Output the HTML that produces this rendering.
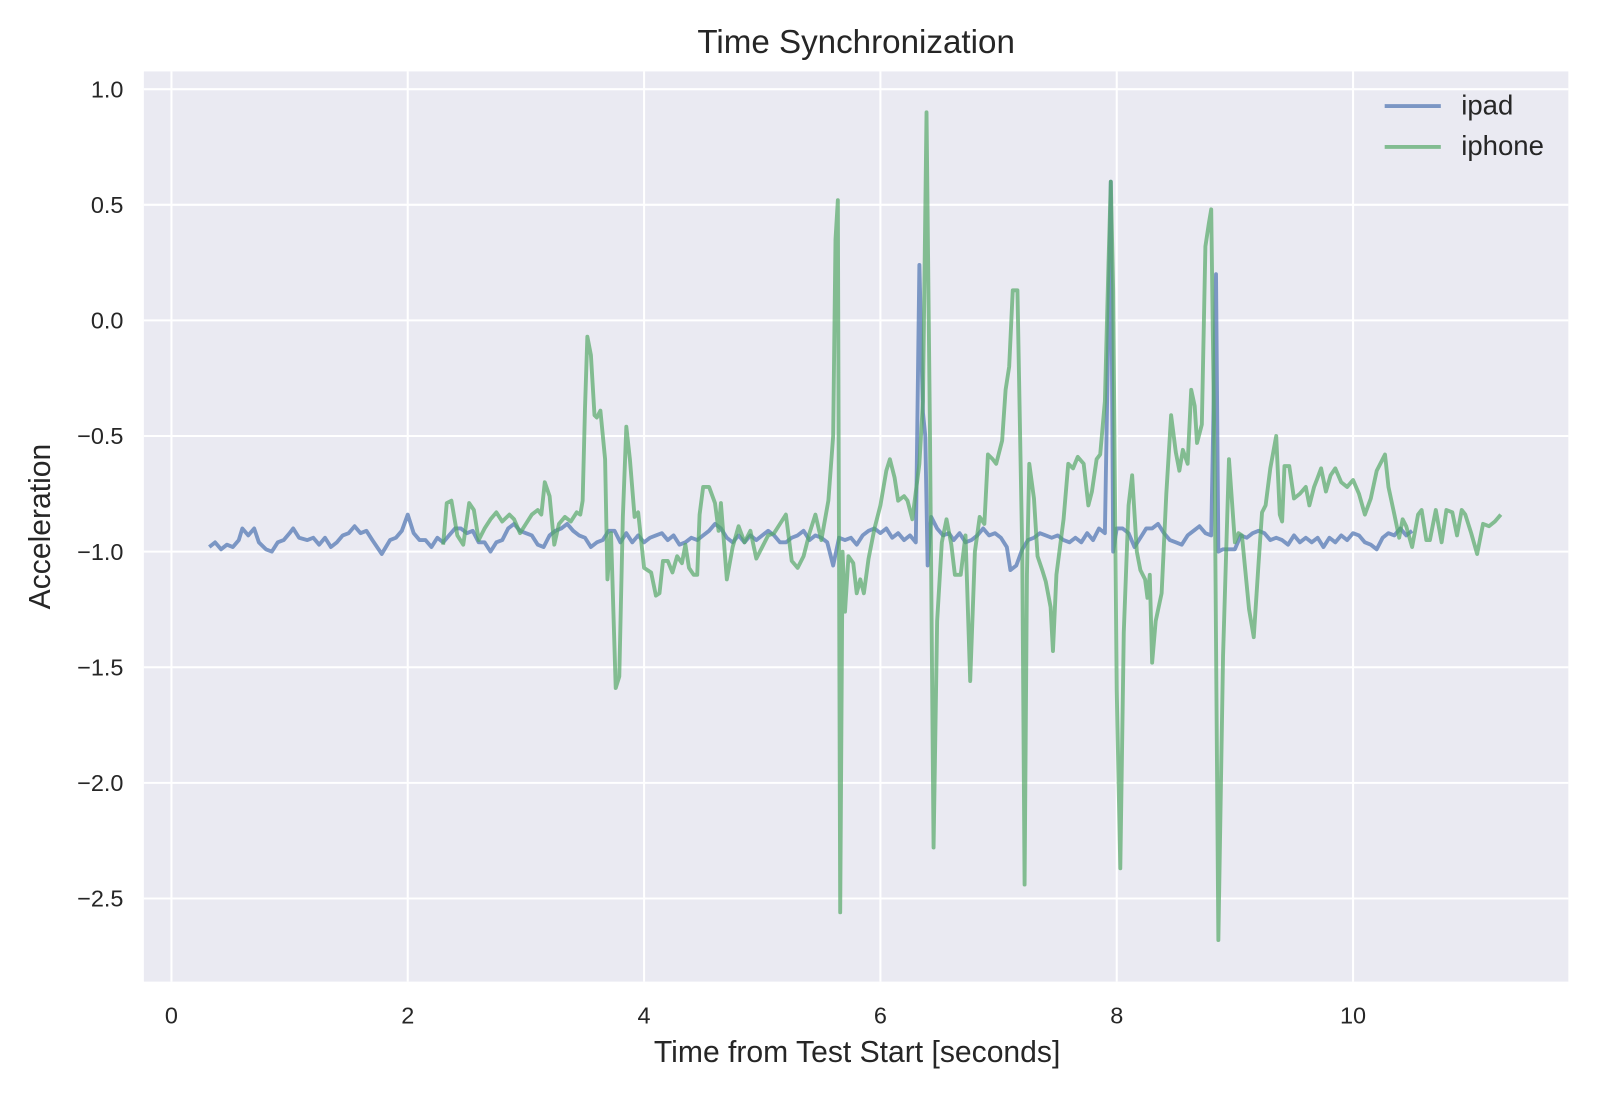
<!DOCTYPE html>
<html><head><meta charset="utf-8"><style>
body{margin:0;background:#fff;font-family:"Liberation Sans",sans-serif}
svg text{font-family:"Liberation Sans",sans-serif;fill:#262626}
</style></head><body>
<svg id="chart" width="1600" height="1100" viewBox="0 0 1600 1100" xmlns="http://www.w3.org/2000/svg">
<rect x="0" y="0" width="1600" height="1100" fill="#fff"/>
<g transform="scale(1.0204)">
<rect x="141" y="70" width="1396" height="892" fill="#eaeaf2"/>
<g id="grid"></g>
<g id="series"></g>
<g id="ticks"></g>
<text x="839" y="52" font-size="32.5" text-anchor="middle">Time Synchronization</text>
<text x="840" y="1041" font-size="29.5" text-anchor="middle">Time from Test Start [seconds]</text>
<text x="49" y="516" font-size="29.5" text-anchor="middle" transform="rotate(-90 49 516)">Acceleration</text>
<g>
<line x1="1357" y1="104" x2="1412" y2="104" stroke="#4c72b0" stroke-opacity="0.7" stroke-width="3.8"/>
<text x="1432" y="112" font-size="27">ipad</text>
<line x1="1357" y1="144" x2="1412" y2="144" stroke="#55a868" stroke-opacity="0.7" stroke-width="3.8"/>
<text x="1432" y="152" font-size="27">iphone</text>
</g>
</g>
</svg>
<script>
const xTicks=[0,2,4,6,8,10];
const yTicks=[1.0,0.5,0.0,-0.5,-1.0,-1.5,-2.0,-2.5];
const yTickLabels=["1.0","0.5","0.0","\u22120.5","\u22121.0","\u22121.5","\u22122.0","\u22122.5"];
const ipadT=[0.32,0.37,0.42,0.47,0.52,0.57,0.6,0.65,0.7,0.74,0.8,0.85,0.9,0.95,1.0,1.03,1.08,1.15,1.2,1.25,1.3,1.35,1.4,1.45,1.5,1.55,1.6,1.65,1.7,1.78,1.85,1.9,1.95,2.0,2.05,2.1,2.15,2.2,2.25,2.3,2.35,2.4,2.45,2.5,2.55,2.6,2.65,2.7,2.75,2.8,2.85,2.9,2.95,3.0,3.05,3.1,3.15,3.2,3.25,3.3,3.35,3.4,3.45,3.5,3.55,3.6,3.65,3.7,3.75,3.8,3.85,3.9,3.95,4.0,4.05,4.1,4.15,4.2,4.25,4.3,4.35,4.4,4.45,4.5,4.55,4.6,4.65,4.7,4.75,4.8,4.85,4.9,4.95,5.0,5.05,5.1,5.15,5.2,5.25,5.3,5.35,5.4,5.45,5.5,5.55,5.6,5.65,5.7,5.75,5.8,5.85,5.9,5.95,6.0,6.05,6.1,6.15,6.2,6.25,6.3,6.33,6.36,6.38,6.4,6.43,6.48,6.53,6.58,6.62,6.67,6.72,6.77,6.82,6.87,6.92,6.97,7.02,7.07,7.1,7.15,7.2,7.25,7.3,7.35,7.4,7.45,7.5,7.55,7.6,7.65,7.7,7.75,7.8,7.85,7.9,7.95,7.97,8.0,8.05,8.1,8.15,8.2,8.25,8.3,8.35,8.4,8.45,8.5,8.55,8.6,8.65,8.7,8.75,8.8,8.84,8.86,8.9,8.95,9.0,9.05,9.1,9.15,9.2,9.25,9.3,9.35,9.4,9.45,9.5,9.55,9.6,9.65,9.7,9.75,9.8,9.85,9.9,9.95,10.0,10.05,10.1,10.15,10.2,10.25,10.3,10.35,10.4,10.45,10.5];
const ipadV=[-0.98,-0.96,-0.99,-0.97,-0.98,-0.95,-0.9,-0.93,-0.9,-0.96,-0.99,-1.0,-0.96,-0.95,-0.92,-0.9,-0.94,-0.95,-0.94,-0.97,-0.94,-0.98,-0.96,-0.93,-0.92,-0.89,-0.92,-0.91,-0.95,-1.01,-0.95,-0.94,-0.91,-0.84,-0.92,-0.95,-0.95,-0.98,-0.94,-0.96,-0.93,-0.9,-0.9,-0.92,-0.91,-0.96,-0.96,-1.0,-0.96,-0.95,-0.9,-0.88,-0.91,-0.92,-0.93,-0.97,-0.98,-0.93,-0.91,-0.9,-0.88,-0.91,-0.93,-0.94,-0.98,-0.96,-0.95,-0.91,-0.91,-0.96,-0.92,-0.96,-0.93,-0.96,-0.94,-0.93,-0.92,-0.95,-0.93,-0.97,-0.96,-0.94,-0.95,-0.93,-0.91,-0.88,-0.9,-0.94,-0.96,-0.93,-0.96,-0.93,-0.95,-0.93,-0.91,-0.93,-0.96,-0.96,-0.94,-0.93,-0.91,-0.95,-0.93,-0.94,-0.96,-1.06,-0.94,-0.95,-0.94,-0.97,-0.93,-0.91,-0.9,-0.92,-0.9,-0.94,-0.92,-0.95,-0.93,-0.96,0.24,-0.4,-0.5,-1.06,-0.85,-0.9,-0.93,-0.92,-0.95,-0.92,-0.96,-0.95,-0.93,-0.9,-0.93,-0.92,-0.94,-0.98,-1.08,-1.06,-0.99,-0.95,-0.94,-0.92,-0.93,-0.94,-0.93,-0.95,-0.96,-0.94,-0.96,-0.92,-0.95,-0.9,-0.92,0.6,-1.0,-0.9,-0.9,-0.92,-0.98,-0.94,-0.9,-0.9,-0.88,-0.92,-0.95,-0.96,-0.97,-0.93,-0.91,-0.89,-0.92,-0.93,0.2,-1.0,-0.99,-0.99,-0.99,-0.93,-0.94,-0.92,-0.91,-0.92,-0.95,-0.94,-0.95,-0.97,-0.93,-0.96,-0.94,-0.96,-0.94,-0.98,-0.94,-0.96,-0.93,-0.95,-0.92,-0.93,-0.96,-0.97,-0.99,-0.94,-0.92,-0.93,-0.9,-0.93,-0.91];
const iphoneT=[2.3,2.33,2.37,2.42,2.47,2.52,2.56,2.6,2.65,2.7,2.75,2.8,2.86,2.9,2.95,3.0,3.05,3.1,3.13,3.16,3.2,3.24,3.28,3.33,3.38,3.43,3.46,3.48,3.5,3.52,3.55,3.58,3.6,3.63,3.67,3.69,3.72,3.76,3.79,3.82,3.85,3.88,3.92,3.95,4.0,4.06,4.1,4.13,4.16,4.2,4.24,4.28,4.32,4.35,4.38,4.42,4.45,4.47,4.5,4.55,4.6,4.63,4.65,4.7,4.75,4.8,4.85,4.9,4.95,5.0,5.05,5.1,5.15,5.2,5.25,5.3,5.35,5.4,5.45,5.5,5.56,5.6,5.62,5.64,5.66,5.68,5.7,5.73,5.77,5.8,5.83,5.86,5.9,5.95,6.0,6.05,6.08,6.12,6.15,6.2,6.23,6.27,6.33,6.36,6.39,6.42,6.45,6.48,6.52,6.56,6.6,6.63,6.68,6.72,6.76,6.8,6.84,6.88,6.91,6.95,6.98,7.03,7.06,7.09,7.12,7.16,7.2,7.22,7.24,7.26,7.3,7.33,7.37,7.4,7.44,7.46,7.49,7.55,7.59,7.63,7.67,7.72,7.76,7.79,7.83,7.86,7.9,7.93,7.95,7.97,8.0,8.03,8.06,8.1,8.13,8.17,8.2,8.24,8.26,8.28,8.3,8.33,8.38,8.42,8.46,8.5,8.53,8.56,8.6,8.63,8.66,8.68,8.72,8.75,8.78,8.8,8.83,8.86,8.9,8.95,9.0,9.03,9.06,9.12,9.16,9.2,9.23,9.26,9.3,9.35,9.38,9.4,9.42,9.46,9.5,9.55,9.6,9.63,9.67,9.7,9.73,9.77,9.81,9.85,9.9,9.95,10.0,10.05,10.1,10.15,10.2,10.25,10.27,10.3,10.35,10.39,10.42,10.45,10.5,10.55,10.58,10.62,10.65,10.7,10.75,10.79,10.84,10.88,10.92,10.95,11.0,11.05,11.1,11.15,11.2,11.25];
const iphoneV=[-0.97,-0.79,-0.78,-0.93,-0.97,-0.79,-0.82,-0.95,-0.9,-0.86,-0.83,-0.87,-0.84,-0.86,-0.92,-0.88,-0.84,-0.82,-0.84,-0.7,-0.76,-0.97,-0.88,-0.85,-0.87,-0.83,-0.84,-0.78,-0.38,-0.07,-0.15,-0.41,-0.42,-0.39,-0.6,-1.12,-0.92,-1.59,-1.54,-0.85,-0.46,-0.6,-0.85,-0.83,-1.07,-1.09,-1.19,-1.18,-1.04,-1.04,-1.09,-1.02,-1.05,-0.97,-1.07,-1.1,-1.1,-0.84,-0.72,-0.72,-0.79,-0.91,-0.79,-1.12,-0.98,-0.89,-0.96,-0.91,-1.03,-0.98,-0.93,-0.92,-0.88,-0.84,-1.04,-1.07,-1.02,-0.92,-0.84,-0.95,-0.78,-0.5,0.35,0.52,-2.56,-1.0,-1.26,-1.02,-1.05,-1.18,-1.12,-1.18,-1.03,-0.9,-0.8,-0.65,-0.6,-0.68,-0.78,-0.76,-0.78,-0.86,-0.62,-0.35,0.9,-0.5,-2.28,-1.3,-0.96,-0.86,-0.97,-1.1,-1.1,-0.93,-1.56,-1.0,-0.85,-0.88,-0.58,-0.6,-0.62,-0.52,-0.3,-0.2,0.13,0.13,-1.0,-2.44,-1.1,-0.62,-0.77,-1.02,-1.08,-1.13,-1.24,-1.43,-1.1,-0.86,-0.62,-0.64,-0.59,-0.62,-0.8,-0.74,-0.6,-0.58,-0.35,0.24,0.6,0.13,-1.6,-2.37,-1.35,-0.8,-0.67,-1.0,-1.08,-1.12,-1.2,-1.1,-1.48,-1.3,-1.18,-0.75,-0.41,-0.57,-0.65,-0.56,-0.62,-0.3,-0.37,-0.53,-0.45,0.32,0.42,0.48,-0.7,-2.68,-1.45,-0.6,-0.96,-0.92,-0.93,-1.25,-1.37,-1.05,-0.83,-0.8,-0.64,-0.5,-0.84,-0.87,-0.63,-0.63,-0.77,-0.75,-0.72,-0.8,-0.72,-0.68,-0.64,-0.74,-0.67,-0.64,-0.7,-0.72,-0.69,-0.75,-0.84,-0.77,-0.65,-0.6,-0.58,-0.72,-0.84,-0.94,-0.86,-0.89,-0.98,-0.84,-0.82,-0.95,-0.95,-0.82,-0.96,-0.82,-0.83,-0.93,-0.82,-0.84,-0.92,-1.01,-0.88,-0.89,-0.87,-0.84];

const NS="http://www.w3.org/2000/svg";
function xs(v){return 168+v*115.8;}
function ys(v){return 314-v*226.6;}
const grid=document.getElementById('grid'),ticks=document.getElementById('ticks'),series=document.getElementById('series');
xTicks.forEach(function(t){
  const l=document.createElementNS(NS,'line');
  l.setAttribute('x1',xs(t));l.setAttribute('x2',xs(t));l.setAttribute('y1',70);l.setAttribute('y2',962);
  l.setAttribute('stroke','#fff');l.setAttribute('stroke-width','2');
  
  
  grid.appendChild(l);
  const tx=document.createElementNS(NS,'text');
  tx.setAttribute('x',xs(t));tx.setAttribute('y',1003);tx.setAttribute('font-size','23');tx.setAttribute('text-anchor','middle');
  tx.textContent=String(t);
  
  
  ticks.appendChild(tx);
});
yTicks.forEach(function(t,i){
  const l=document.createElementNS(NS,'line');
  l.setAttribute('x1',141);l.setAttribute('x2',1537);l.setAttribute('y1',ys(t));l.setAttribute('y2',ys(t));
  l.setAttribute('stroke','#fff');l.setAttribute('stroke-width','2');
  
  
  grid.appendChild(l);
  const tx=document.createElementNS(NS,'text');
  tx.setAttribute('x',121);tx.setAttribute('y',ys(t)+8);tx.setAttribute('font-size','23');tx.setAttribute('text-anchor','end');
  tx.textContent=yTickLabels[i];
  
  
  ticks.appendChild(tx);
});
function drawLine(T,V,color,name){
  const p=document.createElementNS(NS,'polyline');
  p.setAttribute('points',T.map(function(t,i){return xs(t).toFixed(1)+','+ys(V[i]).toFixed(1);}).join(' '));
  p.setAttribute('fill','none');p.setAttribute('stroke',color);p.setAttribute('stroke-opacity','0.7');
  p.setAttribute('stroke-width','3.8');p.setAttribute('stroke-linejoin','round');
  
  
  series.appendChild(p);
}
drawLine(ipadT,ipadV,'#4c72b0','ipad-line');
drawLine(iphoneT,iphoneV,'#55a868','iphone-line');
</script>
</body></html>
